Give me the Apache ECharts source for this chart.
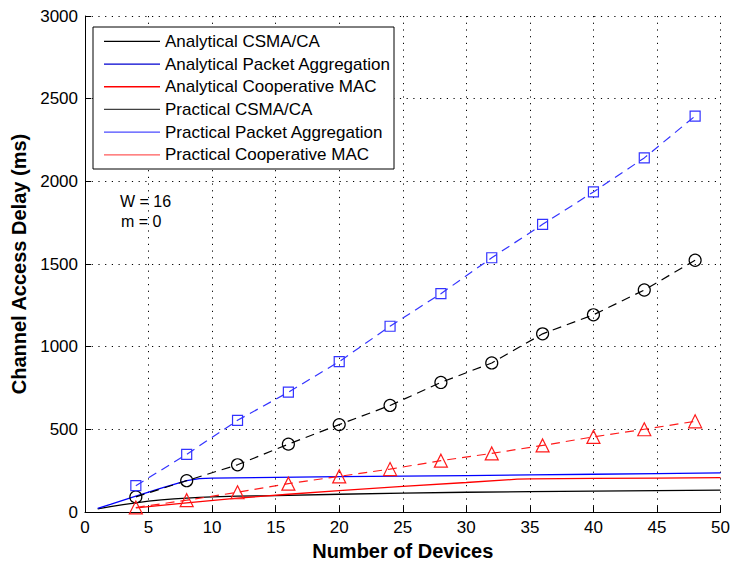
<!DOCTYPE html>
<html>
<head>
<meta charset="utf-8">
<script src="https://cdn.jsdelivr.net/npm/echarts@6/dist/echarts.min.js"></script>
<style>
  html, body { margin: 0; padding: 0; background: #fff; }
  #chart { width: 733px; height: 566px; }
</style>
</head>
<body>
<div id="chart"></div>
<script>
// Analytical curves (solid lines)
const csmaAnalyticalX = [1, 2, 3, 4, 5, 6, 7, 8, 9, 10, 12, 15, 20, 25, 30, 35, 40, 45, 50];
const csmaAnalytical  = [20, 33, 45, 56, 66, 74, 80, 85, 89, 92, 96, 100, 108, 115, 120, 124, 127, 130, 133];

const aggAnalyticalX = [1, 2, 4, 6, 8, 9, 10, 15, 20, 25, 30, 35, 40, 45, 50];
const aggAnalytical  = [22, 46, 96, 145, 190, 203, 206, 210, 214, 217, 221, 225, 229, 233, 237];

const coopAnalyticalX = [4, 8, 12, 16, 20, 25, 30, 34, 35, 40, 45, 50];
const coopAnalytical  = [26, 56, 84, 108, 130, 155, 179, 199, 201, 204, 206, 208];

// Measured points (dashed lines with markers)
const devicesPractical = [4, 8, 12, 16, 20, 24, 28, 32, 36, 40, 44, 48];
const csmaPractical = [92, 190, 286, 411, 529, 645, 784, 902, 1078, 1193, 1343, 1523];
const aggPractical  = [160, 349, 555, 725, 910, 1124, 1321, 1538, 1740, 1936, 2142, 2395];
const coopPractical = [28, 72, 120, 172, 216, 260, 311, 355, 403, 455, 501, 549];

// Axis ticks
const xTicks = { min: 0, max: 50, interval: 5 };
const yTicks = { min: 0, max: 3000, interval: 500 };

const seriesNames = [
  'Analytical CSMA/CA',
  'Analytical Packet Aggregation',
  'Analytical Cooperative MAC',
  'Practical CSMA/CA',
  'Practical Packet Aggregation',
  'Practical Cooperative MAC'
];
const annotations = ['W = 16', 'm = 0'];

const FONT = '"Liberation Sans", Arial, Helvetica, sans-serif';

function pairs(xs, ys) { return xs.map((x, i) => [x, ys[i]]); }

function solid(name, xs, ys, color) {
  return {
    name, type: 'line', data: pairs(xs, ys),
    showSymbol: false, symbol: 'none', silent: true,
    lineStyle: { color, width: 1.3 },
    itemStyle: { color },
    z: 3
  };
}

function dashed(name, xs, ys, color, symbol, size) {
  return {
    name, type: 'line', data: pairs(xs, ys),
    symbol, symbolSize: size, showAllSymbol: true, silent: true,
    lineStyle: { color, width: 1.2, type: [9, 6] },
    itemStyle: { color: 'transparent', borderColor: color, borderWidth: 1.2 },
    z: 3
  };
}

function legendItem(name, color) {
  return { name, itemStyle: { color, borderWidth: 0, borderColor: color } };
}

const chart = echarts.init(document.getElementById('chart'), null, { renderer: 'svg' });

const axisCommon = {
  axisLine: { show: true, lineStyle: { color: '#000', width: 1 } },
  axisTick: { show: true, inside: true, length: 6, lineStyle: { color: '#000' } },
  axisLabel: { color: '#000', fontFamily: FONT, fontSize: 17, margin: 7, formatter: v => String(v) },
  splitLine: { show: true, lineStyle: { color: '#000', width: 1, type: [1.2, 5.5] } },
  nameTextStyle: { color: '#000', fontFamily: FONT, fontSize: 20, fontWeight: 'bold' },
  nameLocation: 'middle'
};

chart.setOption({
  animation: false,
  backgroundColor: '#fff',
  grid: { left: 85, right: 11, top: 16, bottom: 50, containLabel: false },
  xAxis: Object.assign({}, axisCommon, {
    type: 'value', min: xTicks.min, max: xTicks.max, interval: xTicks.interval,
    name: 'Number of Devices', nameGap: 25
  }),
  yAxis: Object.assign({}, axisCommon, {
    type: 'value', min: yTicks.min, max: yTicks.max, interval: yTicks.interval,
    name: 'Channel Access Delay (ms)', nameGap: 49
  }),
  legend: {
    orient: 'vertical', left: 104, top: 30, padding: 0,
    itemWidth: 56, itemHeight: 1.3, itemGap: 0,
    icon: 'rect', selectedMode: false, z: 6,
    textStyle: { color: '#000', fontFamily: FONT, fontSize: 17, lineHeight: 22.7 },
    data: [
      legendItem(seriesNames[0], '#000'),
      legendItem(seriesNames[1], '#0000d0'),
      legendItem(seriesNames[2], '#ff0000'),
      legendItem(seriesNames[3], '#404040'),
      legendItem(seriesNames[4], '#4a4aff'),
      legendItem(seriesNames[5], '#ff5a5a')
    ]
  },
  graphic: [
    {
      type: 'rect', z: 5, silent: true,
      shape: { x: 93, y: 27, width: 301, height: 142 },
      style: { fill: '#fff', stroke: '#000', lineWidth: 1 }
    },
    {
      type: 'text', z: 5, silent: true, left: 120, top: 193,
      style: { text: annotations[0], fill: '#000', font: '16px ' + FONT }
    },
    {
      type: 'text', z: 5, silent: true, left: 121, top: 213,
      style: { text: annotations[1], fill: '#000', font: '16px ' + FONT }
    }
  ],
  series: [
    solid(seriesNames[0], csmaAnalyticalX, csmaAnalytical, '#000'),
    solid(seriesNames[1], aggAnalyticalX, aggAnalytical, '#0000ff'),
    solid(seriesNames[2], coopAnalyticalX, coopAnalytical, '#ff0000'),
    dashed(seriesNames[3], devicesPractical, csmaPractical, '#000', 'circle', 12),
    dashed(seriesNames[4], devicesPractical, aggPractical, '#3333ff', 'rect', 10),
    dashed(seriesNames[5], devicesPractical, coopPractical, '#ff1a1a', 'triangle', 13)
  ]
});
</script>
</body>
</html>
